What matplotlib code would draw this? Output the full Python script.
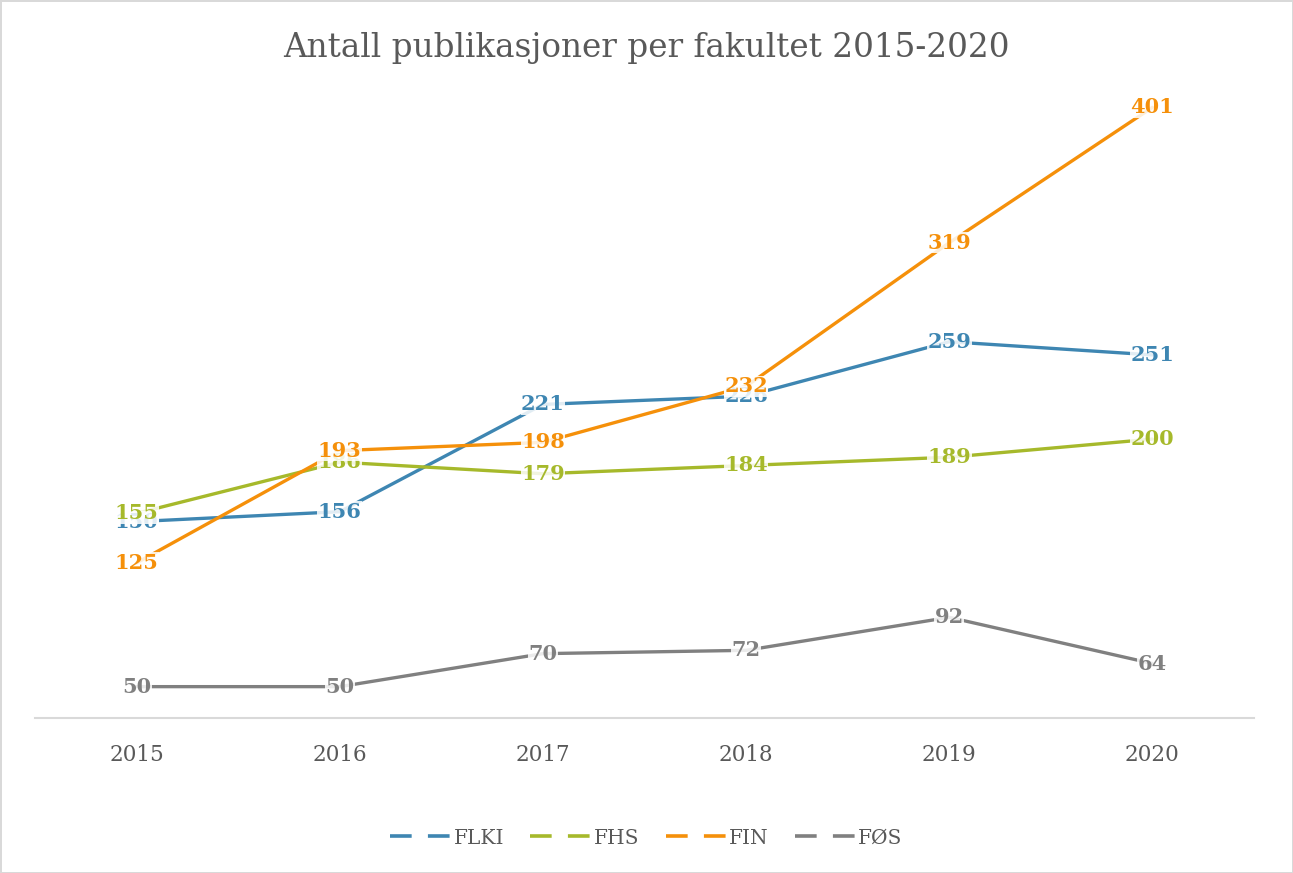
import matplotlib
matplotlib.use("Agg")
import matplotlib.pyplot as plt
from matplotlib.lines import Line2D

years = ["2015", "2016", "2017", "2018", "2019", "2020"]
series_names = ["FLKI", "FHS", "FIN", "FØS"]
flki = [150, 156, 221, 226, 259, 251]
fhs = [155, 186, 179, 184, 189, 200]
fin = [125, 193, 198, 232, 319, 401]
fos = [50, 50, 70, 72, 92, 64]
colors = ["#3e86b2", "#a6b92b", "#f5900a", "#808080"]

plt.rcParams['font.family'] = ['DejaVu Serif']

fig = plt.figure(figsize=(12.93, 8.73), dpi=100)
fig.patch.set_edgecolor("#d9d9d9")
fig.patch.set_linewidth(2)
ax = fig.add_axes([35 / 1293, 1 - 718 / 873, (1254 - 35) / 1293, (718 - 76) / 873])

x = list(range(len(years)))
for name, vals, c in zip(series_names, [flki, fhs, fin, fos], colors):
    ax.plot(x, vals, color=c, linewidth=2.4, solid_capstyle="round", zorder=2)
    for xi, v in zip(x, vals):
        ax.text(xi, v, str(v), color=c, fontsize=15, fontweight="bold",
                ha="center", va="center", zorder=3,
                bbox=dict(facecolor="white", edgecolor="none", pad=0.3, alpha=0.85))

ax.set_xlim(-0.5, len(years) - 0.5)
ax.set_ylim(31, 420)
ax.set_xticks(x)
ax.set_xticklabels(years, fontsize=15.5, color="#595959")
ax.tick_params(axis="x", length=0, pad=19)
ax.set_yticks([])
for side in ["left", "right", "top"]:
    ax.spines[side].set_visible(False)
ax.spines["bottom"].set_color("#d9d9d9")
ax.spines["bottom"].set_linewidth(1.5)

fig.text(0.5, 1 - 48 / 873, "Antall publikasjoner per fakultet 2015-2020",
         ha="center", va="center", fontsize=23.5, color="#595959")

handles = [Line2D([0], [0], color=c, linewidth=2.6, linestyle=(0, (6, 4.5)))
           for c in colors]
fig.legend(handles, series_names, loc="center", bbox_to_anchor=(0.5, 1 - 838 / 873),
           ncol=4, frameon=False, fontsize=14.5, labelcolor="#595959",
           handlelength=3.0, handletextpad=0.15, columnspacing=1.3)

fig.savefig("out.png", dpi=100)
